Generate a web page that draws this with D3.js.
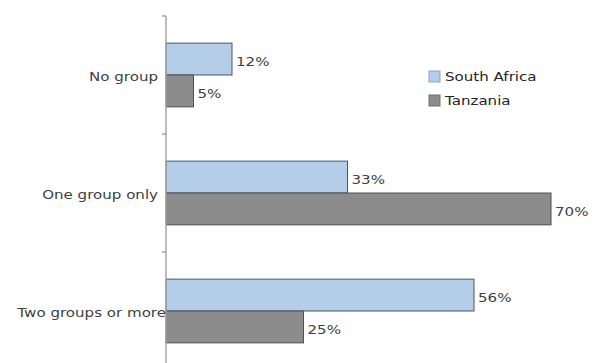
<!DOCTYPE html>
<html>
<head>
<meta charset="utf-8">
<script src="https://cdn.jsdelivr.net/npm/d3@7"></script>
<style>
  html, body { margin: 0; padding: 0; background: #fff; }
  svg { display: block; }
  text { font-family: "DejaVu Sans", Verdana, sans-serif; fill: #404040; font-size: 13px; }
</style>
</head>
<body>
<svg id="chart" width="600" height="363"></svg>
<script>
// Membership in groups, share of respondents by country
const categories = ["No group", "One group only", "Two groups or more"];
const seriesNames = ["South Africa", "Tanzania"];
const southAfrica = [12, 33, 56];
const tanzania = [5, 70, 25];
const seriesColors = ["#b4cde9", "#8c8c8c"];
const seriesStrokes = ["#46566a", "#4e4e4e"];

const svg = d3.select("#chart");
const axisX = 166;
const plotTop = 16, plotBottom = 370;
const stretch = 1.16; // wide lettering

const y = d3.scaleBand()
  .domain(categories)
  .range([plotTop, plotBottom])
  .paddingInner(0.46)
  .paddingOuter(0.23);

const yInner = d3.scaleBand()
  .domain(seriesNames)
  .range([0, y.bandwidth()]);

const x = d3.scaleLinear().domain([0, 80]).range([axisX, axisX + 440]);

const rows = categories.map((c, i) => ({
  category: c,
  values: [southAfrica[i], tanzania[i]]
}));

const groups = svg.selectAll("g.row")
  .data(rows)
  .join("g")
  .attr("class", "row")
  .attr("transform", d => `translate(0,${y(d.category)})`);

groups.selectAll("rect")
  .data(d => d.values.map((v, k) => ({ v, k })))
  .join("rect")
  .attr("x", x(0))
  .attr("y", d => yInner(seriesNames[d.k]))
  .attr("width", d => x(d.v) - x(0))
  .attr("height", yInner.bandwidth())
  .attr("fill", d => seriesColors[d.k])
  .attr("stroke", d => seriesStrokes[d.k])
  .attr("stroke-width", 1);

groups.selectAll("text.val")
  .data(d => d.values.map((v, k) => ({ v, k })))
  .join("text")
  .attr("class", "val")
  .attr("transform", d => `translate(${x(d.v) + 4},${yInner(seriesNames[d.k]) + yInner.bandwidth() / 2 + 3}) scale(${stretch},1)`)
  .attr("dominant-baseline", "middle")
  .text(d => d.v + "%");

// Category axis with ticks between the groups
const axisG = svg.append("g");
axisG.append("line")
  .attr("x1", axisX).attr("x2", axisX)
  .attr("y1", plotTop).attr("y2", 363)
  .attr("stroke", "#a6a6a6").attr("stroke-width", 1.5);

const tickYs = d3.range(categories.length + 1).map(i => plotTop + i * (plotBottom - plotTop) / categories.length);
axisG.selectAll("line.tick")
  .data(tickYs)
  .join("line")
  .attr("class", "tick")
  .attr("x1", axisX - 4).attr("x2", axisX)
  .attr("y1", d => d).attr("y2", d => d)
  .attr("stroke", "#a6a6a6").attr("stroke-width", 1.5);

axisG.selectAll("text.cat")
  .data(categories)
  .join("text")
  .attr("class", "cat")
  .attr("transform", (d, i) => `translate(${i === 2 ? axisX : axisX - 8},${y(d) + y.bandwidth() / 2 + 2}) scale(${stretch},1)`)
  .attr("text-anchor", "end")
  .attr("dominant-baseline", "middle")
  .text(d => d);

// Legend
const legend = svg.append("g").attr("transform", "translate(429,76)");
const li = legend.selectAll("g")
  .data(seriesNames)
  .join("g")
  .attr("transform", (d, i) => `translate(0,${i * 24})`);
li.append("rect")
  .attr("x", 0).attr("y", -5)
  .attr("width", 11).attr("height", 11)
  .attr("fill", (d, i) => seriesColors[i])
  .attr("stroke", (d, i) => i === 0 ? "#8aa6c8" : "#6e6e6e")
  .attr("stroke-width", 1);
li.append("text")
  .attr("transform", `translate(16,1) scale(${stretch},1)`)
  .attr("dominant-baseline", "middle")
  .style("fill", "#262626")
  .text(d => d);
</script>
</body>
</html>
